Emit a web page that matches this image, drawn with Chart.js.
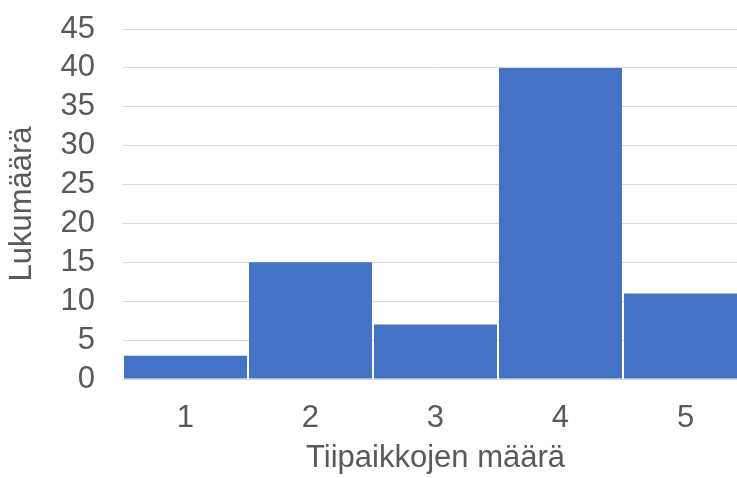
<!DOCTYPE html>
<html>
<head>
<meta charset="utf-8">
<script src="https://cdn.jsdelivr.net/npm/chart.js@4"></script>
<style>
  html, body { margin: 0; padding: 0; background: #fff; overflow: hidden; }
  #wrap { width: 760px; height: 478px; position: relative; }
</style>
</head>
<body>
<div id="wrap"><canvas id="histChart"></canvas></div>
<script>
const categories = ['1', '2', '3', '4', '5'];
const counts = [3, 15, 7, 40, 11];
const yMax = 45;
const yStep = 5;

const ctx = document.getElementById('histChart').getContext('2d');
const textColor = '#595959';
const fontFamily = 'Arial, "Liberation Sans", sans-serif';
const bigFont = { family: fontFamily, size: 31, lineHeight: 1 };

new Chart(ctx, {
    type: 'bar',
    data: {
        labels: categories,
        datasets: [{
            label: 'Lukumäärä',
            data: counts,
            backgroundColor: '#4472C4',
            borderWidth: 0,
            barPercentage: 123 / 125,
            categoryPercentage: 1
        }]
    },
    options: {
        responsive: true,
        maintainAspectRatio: false,
        animation: false,
        layout: {
            padding: { top: 0, right: 12, bottom: 0, left: 6 }
        },
        plugins: {
            legend: { display: false },
            tooltip: { enabled: false }
        },
        scales: {
            x: {
                grid: { display: false, drawTicks: false },
                border: { display: true, color: '#d9d9d9', width: 1 },
                ticks: {
                    color: textColor,
                    font: bigFont,
                    padding: 23.5,
                    autoSkip: false,
                    maxRotation: 0
                },
                title: {
                    display: true,
                    text: 'Tiipaikkojen määrä',
                    color: textColor,
                    font: bigFont,
                    // tick padding counts twice in the axis height, so pull the title back up
                    padding: { top: -14.5, bottom: 4.5 }
                }
            },
            y: {
                min: 0,
                max: yMax,
                grid: { color: '#d9d9d9', drawTicks: false },
                border: { display: false },
                ticks: {
                    stepSize: yStep,
                    color: textColor,
                    // tiny line height keeps the top label from pushing the plot down
                    font: { family: fontFamily, size: 31, lineHeight: 0.065 },
                    padding: 28,
                    autoSkip: false
                },
                title: {
                    display: true,
                    text: 'Lukumäärä',
                    color: textColor,
                    font: bigFont,
                    padding: { top: 0.5, bottom: -5 }
                }
            }
        }
    }
});
</script>
</body>
</html>
